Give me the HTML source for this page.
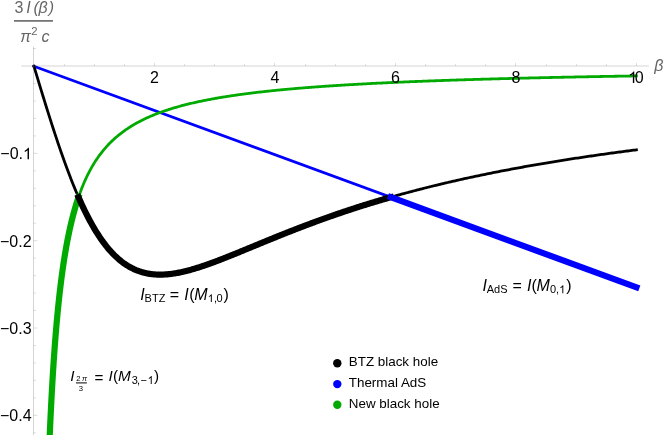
<!DOCTYPE html>
<html><head><meta charset="utf-8"><title>plot</title>
<style>
html,body{margin:0;padding:0;background:#fff;}
body{width:664px;height:435px;overflow:hidden;}
svg{display:block;will-change:transform;font-family:"Liberation Sans",sans-serif;}
.it{font-style:italic;}
</style></head><body>
<svg width="664" height="435" viewBox="0 0 664 435">
<rect width="664" height="435" fill="#fff"/>
<g fill="none" stroke-linejoin="round" stroke-linecap="square">
<path d="M33.90 66.20 L636.40 287.33" stroke="#0000ff" stroke-width="2.8"/>
<path d="M33.90 66.20 L35.41 71.19 L36.92 76.17 L38.43 81.14 L39.94 86.11 L41.45 91.05 L42.96 95.97 L44.47 100.87 L45.98 105.74 L47.49 110.58 L49.00 115.38 L50.51 120.13 L52.02 124.85 L53.53 129.51 L55.04 134.13 L56.55 138.68 L58.06 143.19 L59.57 147.63 L61.08 152.00 L62.59 156.31 L64.10 160.55 L65.61 164.73 L67.12 168.82 L68.63 172.84 L70.14 176.79 L71.65 180.66 L73.16 184.44 L74.67 188.15 L76.18 191.77 L77.69 195.30 L79.20 198.76 L80.71 202.12 L82.22 205.40 L83.73 208.60 L85.24 211.70 L86.75 214.73 L88.26 217.66 L89.77 220.51 L91.28 223.27 L92.79 225.94 L94.30 228.53 L95.81 231.03 L97.32 233.45 L98.83 235.78 L100.34 238.03 L101.85 240.20 L103.36 242.29 L104.87 244.30 L106.38 246.23 L107.89 248.08 L109.40 249.85 L110.91 251.55 L112.42 253.18 L113.93 254.73 L115.44 256.21 L116.95 257.62 L118.46 258.96 L119.97 260.24 L121.48 261.45 L122.99 262.59 L124.50 263.68 L126.01 264.70 L127.52 265.66 L129.03 266.56 L130.54 267.41 L132.05 268.20 L133.56 268.94 L135.07 269.63 L136.58 270.26 L138.09 270.85 L139.60 271.39 L141.11 271.88 L142.62 272.32 L144.13 272.72 L145.64 273.08 L147.15 273.40 L148.66 273.68 L150.17 273.92 L151.68 274.12 L153.19 274.28 L154.70 274.42 L156.21 274.51 L157.72 274.58 L159.23 274.61 L160.74 274.61 L162.25 274.58 L163.76 274.53 L165.27 274.44 L166.78 274.34 L168.29 274.20 L169.80 274.04 L171.31 273.86 L172.82 273.65 L174.33 273.43 L175.84 273.18 L177.35 272.91 L178.86 272.62 L180.37 272.32 L181.88 272.00 L183.39 271.66 L184.90 271.30 L186.41 270.93 L187.92 270.54 L189.43 270.14 L190.94 269.72 L192.45 269.30 L193.96 268.86 L195.47 268.40 L196.98 267.94 L198.49 267.47 L200.00 266.98 L201.51 266.49 L203.02 265.98 L204.53 265.47 L206.04 264.95 L207.55 264.42 L209.06 263.89 L210.57 263.34 L212.08 262.79 L213.59 262.24 L215.10 261.68 L216.61 261.11 L218.12 260.54 L219.63 259.96 L221.14 259.37 L222.65 258.79 L224.16 258.20 L225.67 257.60 L227.18 257.00 L228.69 256.40 L230.20 255.80 L231.71 255.19 L233.22 254.58 L234.73 253.97 L236.24 253.36 L237.75 252.74 L239.26 252.13 L240.77 251.51 L242.28 250.89 L243.79 250.27 L245.30 249.64 L246.81 249.02 L248.32 248.40 L249.83 247.78 L251.34 247.15 L252.85 246.53 L254.36 245.91 L255.87 245.28 L257.38 244.66 L258.89 244.04 L260.40 243.42 L261.91 242.79 L263.42 242.17 L264.93 241.55 L266.44 240.93 L267.95 240.32 L269.46 239.70 L270.97 239.08 L272.48 238.47 L273.99 237.86 L275.50 237.25 L277.01 236.64 L278.52 236.03 L280.03 235.42 L281.54 234.81 L283.05 234.21 L284.56 233.61 L286.07 233.01 L287.58 232.41 L289.09 231.82 L290.60 231.22 L292.11 230.63 L293.62 230.04 L295.13 229.45 L296.64 228.87 L298.15 228.28 L299.66 227.70 L301.17 227.12 L302.68 226.55 L304.19 225.97 L305.70 225.40 L307.21 224.83 L308.72 224.26 L310.23 223.70 L311.74 223.14 L313.25 222.58 L314.76 222.02 L316.27 221.46 L317.78 220.91 L319.29 220.36 L320.80 219.81 L322.31 219.27 L323.82 218.73 L325.33 218.19 L326.84 217.65 L328.35 217.11 L329.86 216.58 L331.37 216.05 L332.88 215.52 L334.39 215.00 L335.91 214.48 L337.42 213.96 L338.93 213.44 L340.44 212.93 L341.95 212.41 L343.46 211.90 L344.97 211.40 L346.48 210.89 L347.99 210.39 L349.50 209.89 L351.01 209.39 L352.52 208.90 L354.03 208.41 L355.54 207.92 L357.05 207.43 L358.56 206.95 L360.07 206.47 L361.58 205.99 L363.09 205.51 L364.60 205.04 L366.11 204.57 L367.62 204.10 L369.13 203.63 L370.64 203.17 L372.15 202.70 L373.66 202.25 L375.17 201.79 L376.68 201.33 L378.19 200.88 L379.70 200.43 L381.21 199.99 L382.72 199.54 L384.23 199.10 L385.74 198.66 L387.25 198.22 L388.76 197.79 L390.27 197.35 L391.78 196.92 L393.29 196.49 L394.80 196.07 L396.31 195.64 L397.82 195.22 L399.33 194.80 L400.84 194.38 L402.35 193.97 L403.86 193.56 L405.37 193.15 L406.88 192.74 L408.39 192.33 L409.90 191.93 L411.41 191.53 L412.92 191.13 L414.43 190.73 L415.94 190.34 L417.45 189.94 L418.96 189.55 L420.47 189.16 L421.98 188.78 L423.49 188.39 L425.00 188.01 L426.51 187.63 L428.02 187.25 L429.53 186.87 L431.04 186.50 L432.55 186.13 L434.06 185.76 L435.57 185.39 L437.08 185.02 L438.59 184.66 L440.10 184.29 L441.61 183.93 L443.12 183.57 L444.63 183.22 L446.14 182.86 L447.65 182.51 L449.16 182.16 L450.67 181.81 L452.18 181.46 L453.69 181.11 L455.20 180.77 L456.71 180.43 L458.22 180.09 L459.73 179.75 L461.24 179.41 L462.75 179.08 L464.26 178.74 L465.77 178.41 L467.28 178.08 L468.79 177.75 L470.30 177.43 L471.81 177.10 L473.32 176.78 L474.83 176.46 L476.34 176.14 L477.85 175.82 L479.36 175.51 L480.87 175.19 L482.38 174.88 L483.89 174.57 L485.40 174.26 L486.91 173.95 L488.42 173.64 L489.93 173.34 L491.44 173.03 L492.95 172.73 L494.46 172.43 L495.97 172.13 L497.48 171.83 L498.99 171.54 L500.50 171.24 L502.01 170.95 L503.52 170.66 L505.03 170.37 L506.54 170.08 L508.05 169.79 L509.56 169.51 L511.07 169.23 L512.58 168.94 L514.09 168.66 L515.60 168.38 L517.11 168.10 L518.62 167.83 L520.13 167.55 L521.64 167.28 L523.15 167.00 L524.66 166.73 L526.17 166.46 L527.68 166.19 L529.19 165.92 L530.70 165.66 L532.21 165.39 L533.72 165.13 L535.23 164.87 L536.74 164.61 L538.25 164.35 L539.76 164.09 L541.27 163.83 L542.78 163.57 L544.29 163.32 L545.80 163.07 L547.31 162.81 L548.82 162.56 L550.33 162.31 L551.84 162.06 L553.35 161.82 L554.86 161.57 L556.37 161.32 L557.88 161.08 L559.39 160.84 L560.90 160.60 L562.41 160.35 L563.92 160.12 L565.43 159.88 L566.94 159.64 L568.45 159.40 L569.96 159.17 L571.47 158.93 L572.98 158.70 L574.49 158.47 L576.00 158.24 L577.51 158.01 L579.02 157.78 L580.53 157.55 L582.04 157.33 L583.55 157.10 L585.06 156.88 L586.57 156.66 L588.08 156.43 L589.59 156.21 L591.10 155.99 L592.61 155.77 L594.12 155.56 L595.63 155.34 L597.14 155.12 L598.65 154.91 L600.16 154.69 L601.67 154.48 L603.18 154.27 L604.69 154.06 L606.20 153.85 L607.71 153.64 L609.22 153.43 L610.73 153.22 L612.24 153.01 L613.75 152.81 L615.26 152.60 L616.77 152.40 L618.28 152.20 L619.79 152.00 L621.30 151.79 L622.81 151.59 L624.32 151.39 L625.83 151.20 L627.34 151.00 L628.85 150.80 L630.36 150.61 L631.87 150.41 L633.38 150.22 L634.89 150.02 L636.40 149.83" stroke="#000" stroke-width="2.8"/>
<path d="M48.36 470.37 L49.34 444.67 L50.32 422.05 L51.31 401.98 L52.29 384.05 L53.27 367.94 L54.25 353.38 L55.23 340.17 L56.21 328.11 L57.20 317.08 L58.18 306.93 L59.16 297.58 L60.14 288.92 L61.12 280.89 L62.10 273.41 L63.09 266.44 L64.07 259.93 L65.05 253.82 L66.03 248.09 L67.01 242.70 L67.99 237.62 L68.98 232.82 L69.96 228.28 L70.94 223.99 L71.92 219.91 L72.90 216.04 L73.88 212.36 L74.87 208.86 L75.85 205.52 L76.83 202.34 L77.81 199.29 L78.79 196.38 L79.77 193.60 L80.76 190.93 L81.74 188.37 L82.72 185.91 L83.70 183.55 L84.68 181.28 L85.66 179.10 L86.65 177.00 L87.63 174.97 L88.61 173.02 L89.59 171.14 L90.57 169.32 L91.55 167.57 L92.54 165.87 L93.52 164.23 L94.50 162.64 L95.48 161.10 L96.46 159.61 L97.45 158.17 L98.43 156.77 L99.41 155.41 L100.39 154.10 L101.37 152.82 L102.35 151.58 L103.34 150.37 L104.32 149.19 L105.30 148.05 L106.28 146.94 L107.26 145.86 L108.24 144.81 L109.23 143.79 L110.21 142.79 L111.19 141.82 L112.17 140.87 L113.15 139.94 L114.13 139.04 L115.12 138.16 L116.10 137.30 L117.08 136.46 L118.06 135.64 L119.04 134.84 L120.02 134.06 L121.01 133.29 L121.99 132.55 L122.97 131.81 L123.95 131.10 L124.93 130.40 L125.91 129.71 L126.90 129.04 L127.88 128.39 L128.86 127.74 L129.84 127.11 L130.82 126.50 L131.80 125.89 L132.79 125.30 L133.77 124.72 L134.75 124.15 L135.73 123.59 L136.71 123.04 L137.69 122.51 L138.68 121.98 L139.66 121.46 L140.64 120.95 L141.62 120.45 L142.60 119.96 L143.59 119.48 L144.57 119.01 L145.55 118.55 L146.53 118.09 L147.51 117.64 L148.49 117.20 L149.48 116.77 L150.46 116.34 L151.44 115.92 L152.42 115.51 L153.40 115.10 L154.38 114.71 L155.37 114.31 L156.35 113.93 L157.33 113.55 L158.31 113.18 L159.29 112.81 L160.27 112.45 L161.26 112.09 L162.24 111.74 L163.22 111.39 L164.20 111.05 L165.18 110.72 L166.16 110.39 L167.15 110.06 L168.13 109.74 L169.11 109.42 L170.09 109.11 L171.07 108.81 L172.05 108.50 L173.04 108.20 L174.02 107.91 L175.00 107.62 L175.98 107.33 L176.96 107.05 L177.94 106.77 L178.93 106.50 L179.91 106.23 L180.89 105.96 L181.87 105.70 L182.85 105.44 L183.83 105.18 L184.82 104.93 L185.80 104.67 L186.78 104.43 L187.76 104.18 L188.74 103.94 L189.73 103.71 L190.71 103.47 L191.69 103.24 L192.67 103.01 L193.65 102.78 L194.63 102.56 L195.62 102.34 L196.60 102.12 L197.58 101.91 L198.56 101.69 L199.54 101.48 L200.52 101.27 L201.51 101.07 L202.49 100.87 L203.47 100.67 L204.45 100.47 L205.43 100.27 L206.41 100.08 L207.40 99.89 L208.38 99.70 L209.36 99.51 L210.34 99.32 L211.32 99.14 L212.30 98.96 L213.29 98.78 L214.27 98.60 L215.25 98.43 L216.23 98.25 L217.21 98.08 L218.19 97.91 L219.18 97.74 L220.16 97.58 L221.14 97.41 L222.12 97.25 L223.10 97.09 L224.08 96.93 L225.07 96.77 L226.05 96.62 L227.03 96.46 L228.01 96.31 L228.99 96.16 L229.98 96.01 L230.96 95.86 L231.94 95.71 L232.92 95.57 L233.90 95.42 L234.88 95.28 L235.87 95.14 L236.85 95.00 L237.83 94.86 L238.81 94.72 L239.79 94.59 L240.77 94.45 L241.76 94.32 L242.74 94.18 L243.72 94.05 L244.70 93.92 L245.68 93.80 L246.66 93.67 L247.65 93.54 L248.63 93.42 L249.61 93.29 L250.59 93.17 L251.57 93.05 L252.55 92.93 L253.54 92.81 L254.52 92.69 L255.50 92.57 L256.48 92.46 L257.46 92.34 L258.44 92.23 L259.43 92.11 L260.41 92.00 L261.39 91.89 L262.37 91.78 L263.35 91.67 L264.33 91.56 L265.32 91.45 L266.30 91.35 L267.28 91.24 L268.26 91.14 L269.24 91.03 L270.22 90.93 L271.21 90.83 L272.19 90.73 L273.17 90.63 L274.15 90.53 L275.13 90.43 L276.12 90.33 L277.10 90.23 L278.08 90.13 L279.06 90.04 L280.04 89.94 L281.02 89.85 L282.01 89.76 L282.99 89.66 L283.97 89.57 L284.95 89.48 L285.93 89.39 L286.91 89.30 L287.90 89.21 L288.88 89.12 L289.86 89.03 L290.84 88.95 L291.82 88.86 L292.80 88.77 L293.79 88.69 L294.77 88.60 L295.75 88.52 L296.73 88.44 L297.71 88.35 L298.69 88.27 L299.68 88.19 L300.66 88.11 L301.64 88.03 L302.62 87.95 L303.60 87.87 L304.58 87.79 L305.57 87.71 L306.55 87.64 L307.53 87.56 L308.51 87.48 L309.49 87.41 L310.47 87.33 L311.46 87.26 L312.44 87.18 L313.42 87.11 L314.40 87.04 L315.38 86.96 L316.36 86.89 L317.35 86.82 L318.33 86.75 L319.31 86.68 L320.29 86.61 L321.27 86.54 L322.26 86.47 L323.24 86.40 L324.22 86.33 L325.20 86.26 L326.18 86.20 L327.16 86.13 L328.15 86.06 L329.13 86.00 L330.11 85.93 L331.09 85.87 L332.07 85.80 L333.05 85.74 L334.04 85.67 L335.02 85.61 L336.00 85.55 L336.98 85.48 L337.96 85.42 L338.94 85.36 L339.93 85.30 L340.91 85.24 L341.89 85.18 L342.87 85.12 L343.85 85.06 L344.83 85.00 L345.82 84.94 L346.80 84.88 L347.78 84.82 L348.76 84.76 L349.74 84.70 L350.72 84.65 L351.71 84.59 L352.69 84.53 L353.67 84.48 L354.65 84.42 L355.63 84.36 L356.61 84.31 L357.60 84.25 L358.58 84.20 L359.56 84.15 L360.54 84.09 L361.52 84.04 L362.50 83.99 L363.49 83.93 L364.47 83.88 L365.45 83.83 L366.43 83.78 L367.41 83.72 L368.40 83.67 L369.38 83.62 L370.36 83.57 L371.34 83.52 L372.32 83.47 L373.30 83.42 L374.29 83.37 L375.27 83.32 L376.25 83.27 L377.23 83.22 L378.21 83.17 L379.19 83.13 L380.18 83.08 L381.16 83.03 L382.14 82.98 L383.12 82.94 L384.10 82.89 L385.08 82.84 L386.07 82.80 L387.05 82.75 L388.03 82.70 L389.01 82.66 L389.99 82.61 L390.97 82.57 L391.96 82.52 L392.94 82.48 L393.92 82.43 L394.90 82.39 L395.88 82.35 L396.86 82.30 L397.85 82.26 L398.83 82.21 L399.81 82.17 L400.79 82.13 L401.77 82.09 L402.75 82.04 L403.74 82.00 L404.72 81.96 L405.70 81.92 L406.68 81.88 L407.66 81.84 L408.64 81.80 L409.63 81.75 L410.61 81.71 L411.59 81.67 L412.57 81.63 L413.55 81.59 L414.54 81.55 L415.52 81.51 L416.50 81.48 L417.48 81.44 L418.46 81.40 L419.44 81.36 L420.43 81.32 L421.41 81.28 L422.39 81.24 L423.37 81.21 L424.35 81.17 L425.33 81.13 L426.32 81.09 L427.30 81.06 L428.28 81.02 L429.26 80.98 L430.24 80.95 L431.22 80.91 L432.21 80.87 L433.19 80.84 L434.17 80.80 L435.15 80.77 L436.13 80.73 L437.11 80.69 L438.10 80.66 L439.08 80.62 L440.06 80.59 L441.04 80.55 L442.02 80.52 L443.00 80.49 L443.99 80.45 L444.97 80.42 L445.95 80.38 L446.93 80.35 L447.91 80.32 L448.89 80.28 L449.88 80.25 L450.86 80.22 L451.84 80.18 L452.82 80.15 L453.80 80.12 L454.78 80.09 L455.77 80.05 L456.75 80.02 L457.73 79.99 L458.71 79.96 L459.69 79.93 L460.68 79.89 L461.66 79.86 L462.64 79.83 L463.62 79.80 L464.60 79.77 L465.58 79.74 L466.57 79.71 L467.55 79.68 L468.53 79.65 L469.51 79.62 L470.49 79.59 L471.47 79.56 L472.46 79.53 L473.44 79.50 L474.42 79.47 L475.40 79.44 L476.38 79.41 L477.36 79.38 L478.35 79.35 L479.33 79.32 L480.31 79.29 L481.29 79.26 L482.27 79.23 L483.25 79.21 L484.24 79.18 L485.22 79.15 L486.20 79.12 L487.18 79.09 L488.16 79.07 L489.14 79.04 L490.13 79.01 L491.11 78.98 L492.09 78.96 L493.07 78.93 L494.05 78.90 L495.03 78.87 L496.02 78.85 L497.00 78.82 L497.98 78.79 L498.96 78.77 L499.94 78.74 L500.93 78.71 L501.91 78.69 L502.89 78.66 L503.87 78.64 L504.85 78.61 L505.83 78.58 L506.82 78.56 L507.80 78.53 L508.78 78.51 L509.76 78.48 L510.74 78.46 L511.72 78.43 L512.71 78.41 L513.69 78.38 L514.67 78.36 L515.65 78.33 L516.63 78.31 L517.61 78.28 L518.60 78.26 L519.58 78.23 L520.56 78.21 L521.54 78.18 L522.52 78.16 L523.50 78.14 L524.49 78.11 L525.47 78.09 L526.45 78.07 L527.43 78.04 L528.41 78.02 L529.39 77.99 L530.38 77.97 L531.36 77.95 L532.34 77.93 L533.32 77.90 L534.30 77.88 L535.28 77.86 L536.27 77.83 L537.25 77.81 L538.23 77.79 L539.21 77.77 L540.19 77.74 L541.17 77.72 L542.16 77.70 L543.14 77.68 L544.12 77.65 L545.10 77.63 L546.08 77.61 L547.07 77.59 L548.05 77.57 L549.03 77.55 L550.01 77.52 L550.99 77.50 L551.97 77.48 L552.96 77.46 L553.94 77.44 L554.92 77.42 L555.90 77.40 L556.88 77.37 L557.86 77.35 L558.85 77.33 L559.83 77.31 L560.81 77.29 L561.79 77.27 L562.77 77.25 L563.75 77.23 L564.74 77.21 L565.72 77.19 L566.70 77.17 L567.68 77.15 L568.66 77.13 L569.64 77.11 L570.63 77.09 L571.61 77.07 L572.59 77.05 L573.57 77.03 L574.55 77.01 L575.53 76.99 L576.52 76.97 L577.50 76.95 L578.48 76.93 L579.46 76.91 L580.44 76.89 L581.42 76.87 L582.41 76.85 L583.39 76.84 L584.37 76.82 L585.35 76.80 L586.33 76.78 L587.31 76.76 L588.30 76.74 L589.28 76.72 L590.26 76.70 L591.24 76.69 L592.22 76.67 L593.21 76.65 L594.19 76.63 L595.17 76.61 L596.15 76.59 L597.13 76.58 L598.11 76.56 L599.10 76.54 L600.08 76.52 L601.06 76.50 L602.04 76.49 L603.02 76.47 L604.00 76.45 L604.99 76.43 L605.97 76.42 L606.95 76.40 L607.93 76.38 L608.91 76.36 L609.89 76.35 L610.88 76.33 L611.86 76.31 L612.84 76.29 L613.82 76.28 L614.80 76.26 L615.78 76.24 L616.77 76.23 L617.75 76.21 L618.73 76.19 L619.71 76.18 L620.69 76.16 L621.67 76.14 L622.66 76.13 L623.64 76.11 L624.62 76.09 L625.60 76.08 L626.58 76.06 L627.56 76.04 L628.55 76.03 L629.53 76.01 L630.51 76.00 L631.49 75.98 L632.47 75.96 L633.45 75.95 L634.44 75.93 L635.42 75.92 L636.40 75.90" stroke="#00aa00" stroke-width="2.8"/>
<path d="M48.36 470.37 L48.51 466.18 L48.66 462.07 L48.81 458.05 L48.97 454.11 L49.12 450.24 L49.27 446.46 L49.42 442.75 L49.57 439.11 L49.72 435.53 L49.88 432.03 L50.03 428.59 L50.18 425.22 L50.33 421.91 L50.48 418.66 L50.63 415.47 L50.78 412.33 L50.94 409.25 L51.09 406.23 L51.24 403.26 L51.39 400.34 L51.54 397.47 L51.69 394.65 L51.85 391.87 L52.00 389.15 L52.15 386.46 L52.30 383.83 L52.45 381.23 L52.60 378.68 L52.75 376.17 L52.91 373.70 L53.06 371.27 L53.21 368.87 L53.36 366.51 L53.51 364.19 L53.66 361.91 L53.81 359.66 L53.97 357.44 L54.12 355.26 L54.27 353.11 L54.42 350.99 L54.57 348.90 L54.72 346.85 L54.88 344.82 L55.03 342.82 L55.18 340.85 L55.33 338.91 L55.48 337.00 L55.63 335.11 L55.78 333.25 L55.94 331.41 L56.09 329.60 L56.24 327.81 L56.39 326.05 L56.54 324.31 L56.69 322.59 L56.85 320.90 L57.00 319.23 L57.15 317.58 L57.30 315.95 L57.45 314.35 L57.60 312.76 L57.75 311.19 L57.91 309.65 L58.06 308.12 L58.21 306.61 L58.36 305.12 L58.51 303.65 L58.66 302.20 L58.82 300.76 L58.97 299.35 L59.12 297.95 L59.27 296.56 L59.42 295.19 L59.57 293.84 L59.72 292.51 L59.88 291.19 L60.03 289.88 L60.18 288.59 L60.33 287.32 L60.48 286.06 L60.63 284.81 L60.79 283.58 L60.94 282.36 L61.09 281.15 L61.24 279.96 L61.39 278.79 L61.54 277.62 L61.69 276.47 L61.85 275.33 L62.00 274.20 L62.15 273.08 L62.30 271.98 L62.45 270.89 L62.60 269.81 L62.76 268.74 L62.91 267.68 L63.06 266.63 L63.21 265.60 L63.36 264.57 L63.51 263.56 L63.66 262.55 L63.82 261.56 L63.97 260.57 L64.12 259.60 L64.27 258.63 L64.42 257.68 L64.57 256.73 L64.72 255.79 L64.88 254.87 L65.03 253.95 L65.18 253.04 L65.33 252.14 L65.48 251.25 L65.63 250.36 L65.79 249.49 L65.94 248.62 L66.09 247.76 L66.24 246.91 L66.39 246.07 L66.54 245.23 L66.69 244.41 L66.85 243.59 L67.00 242.77 L67.15 241.97 L67.30 241.17 L67.45 240.38 L67.60 239.60 L67.76 238.82 L67.91 238.05 L68.06 237.29 L68.21 236.54 L68.36 235.79 L68.51 235.04 L68.66 234.31 L68.82 233.58 L68.97 232.86 L69.12 232.14 L69.27 231.43 L69.42 230.72 L69.57 230.02 L69.73 229.33 L69.88 228.64 L70.03 227.96 L70.18 227.29 L70.33 226.62 L70.48 225.95 L70.63 225.29 L70.79 224.64 L70.94 223.99 L71.09 223.35 L71.24 222.71 L71.39 222.08 L71.54 221.45 L71.70 220.83 L71.85 220.21 L72.00 219.60 L72.15 218.99 L72.30 218.39 L72.45 217.79 L72.60 217.20 L72.76 216.61 L72.91 216.02 L73.06 215.44 L73.21 214.87 L73.36 214.30 L73.51 213.73 L73.67 213.17 L73.82 212.61 L73.97 212.06 L74.12 211.51 L74.27 210.96 L74.42 210.42 L74.57 209.88 L74.73 209.35 L74.88 208.82 L75.03 208.30 L75.18 207.77 L75.33 207.26 L75.48 206.74 L75.63 206.23 L75.79 205.73 L75.94 205.22 L76.09 204.72 L76.24 204.23 L76.39 203.74 L76.54 203.25 L76.70 202.76 L76.85 202.28 L77.00 201.80 L77.15 201.33 L77.30 200.85 L77.45 200.39 L77.60 199.92 L77.76 199.46 L77.91 199.00 L78.06 198.54 L78.21 198.09 L78.36 197.64 L78.51 197.20" stroke="#00aa00" stroke-width="6.2"/>
<path d="M78.51 197.20 L79.56 199.56 L80.60 201.88 L81.65 204.17 L82.69 206.41 L83.74 208.61 L84.78 210.77 L85.83 212.88 L86.87 214.96 L87.91 216.99 L88.96 218.98 L90.00 220.94 L91.05 222.84 L92.09 224.71 L93.14 226.54 L94.18 228.32 L95.23 230.07 L96.27 231.77 L97.31 233.44 L98.36 235.06 L99.40 236.65 L100.45 238.19 L101.49 239.69 L102.54 241.16 L103.58 242.59 L104.63 243.98 L105.67 245.33 L106.71 246.64 L107.76 247.92 L108.80 249.16 L109.85 250.36 L110.89 251.53 L111.94 252.66 L112.98 253.76 L114.03 254.82 L115.07 255.85 L116.12 256.85 L117.16 257.81 L118.20 258.74 L119.25 259.64 L120.29 260.50 L121.34 261.34 L122.38 262.14 L123.43 262.91 L124.47 263.66 L125.52 264.37 L126.56 265.05 L127.60 265.71 L128.65 266.34 L129.69 266.94 L130.74 267.52 L131.78 268.07 L132.83 268.59 L133.87 269.09 L134.92 269.56 L135.96 270.01 L137.00 270.43 L138.05 270.83 L139.09 271.21 L140.14 271.57 L141.18 271.90 L142.23 272.21 L143.27 272.50 L144.32 272.77 L145.36 273.02 L146.40 273.25 L147.45 273.46 L148.49 273.65 L149.54 273.82 L150.58 273.98 L151.63 274.11 L152.67 274.23 L153.72 274.33 L154.76 274.42 L155.81 274.49 L156.85 274.54 L157.89 274.58 L158.94 274.60 L159.98 274.61 L161.03 274.61 L162.07 274.59 L163.12 274.55 L164.16 274.51 L165.21 274.45 L166.25 274.38 L167.29 274.29 L168.34 274.20 L169.38 274.09 L170.43 273.97 L171.47 273.84 L172.52 273.70 L173.56 273.55 L174.61 273.38 L175.65 273.21 L176.69 273.03 L177.74 272.84 L178.78 272.64 L179.83 272.43 L180.87 272.21 L181.92 271.99 L182.96 271.75 L184.01 271.51 L185.05 271.26 L186.09 271.01 L187.14 270.74 L188.18 270.47 L189.23 270.19 L190.27 269.91 L191.32 269.62 L192.36 269.32 L193.41 269.02 L194.45 268.71 L195.50 268.40 L196.54 268.08 L197.58 267.75 L198.63 267.42 L199.67 267.09 L200.72 266.75 L201.76 266.41 L202.81 266.06 L203.85 265.70 L204.90 265.35 L205.94 264.99 L206.98 264.62 L208.03 264.26 L209.07 263.88 L210.12 263.51 L211.16 263.13 L212.21 262.75 L213.25 262.36 L214.30 261.98 L215.34 261.59 L216.38 261.19 L217.43 260.80 L218.47 260.40 L219.52 260.00 L220.56 259.60 L221.61 259.19 L222.65 258.79 L223.70 258.38 L224.74 257.97 L225.78 257.56 L226.83 257.14 L227.87 256.73 L228.92 256.31 L229.96 255.90 L231.01 255.48 L232.05 255.06 L233.10 254.63 L234.14 254.21 L235.19 253.79 L236.23 253.36 L237.27 252.94 L238.32 252.51 L239.36 252.08 L240.41 251.66 L241.45 251.23 L242.50 250.80 L243.54 250.37 L244.59 249.94 L245.63 249.51 L246.67 249.08 L247.72 248.65 L248.76 248.22 L249.81 247.79 L250.85 247.36 L251.90 246.93 L252.94 246.49 L253.99 246.06 L255.03 245.63 L256.07 245.20 L257.12 244.77 L258.16 244.34 L259.21 243.91 L260.25 243.48 L261.30 243.05 L262.34 242.62 L263.39 242.19 L264.43 241.76 L265.47 241.33 L266.52 240.90 L267.56 240.48 L268.61 240.05 L269.65 239.62 L270.70 239.20 L271.74 238.77 L272.79 238.35 L273.83 237.92 L274.88 237.50 L275.92 237.08 L276.96 236.66 L278.01 236.23 L279.05 235.81 L280.10 235.39 L281.14 234.98 L282.19 234.56 L283.23 234.14 L284.28 233.72 L285.32 233.31 L286.36 232.90 L287.41 232.48 L288.45 232.07 L289.50 231.66 L290.54 231.25 L291.59 230.84 L292.63 230.43 L293.68 230.02 L294.72 229.61 L295.76 229.21 L296.81 228.80 L297.85 228.40 L298.90 228.00 L299.94 227.60 L300.99 227.20 L302.03 226.80 L303.08 226.40 L304.12 226.00 L305.16 225.61 L306.21 225.21 L307.25 224.82 L308.30 224.42 L309.34 224.03 L310.39 223.64 L311.43 223.25 L312.48 222.87 L313.52 222.48 L314.57 222.09 L315.61 221.71 L316.65 221.33 L317.70 220.94 L318.74 220.56 L319.79 220.18 L320.83 219.80 L321.88 219.43 L322.92 219.05 L323.97 218.68 L325.01 218.30 L326.05 217.93 L327.10 217.56 L328.14 217.19 L329.19 216.82 L330.23 216.45 L331.28 216.09 L332.32 215.72 L333.37 215.36 L334.41 214.99 L335.45 214.63 L336.50 214.27 L337.54 213.91 L338.59 213.56 L339.63 213.20 L340.68 212.84 L341.72 212.49 L342.77 212.14 L343.81 211.78 L344.85 211.43 L345.90 211.08 L346.94 210.74 L347.99 210.39 L349.03 210.04 L350.08 209.70 L351.12 209.36 L352.17 209.01 L353.21 208.67 L354.26 208.33 L355.30 208.00 L356.34 207.66 L357.39 207.32 L358.43 206.99 L359.48 206.65 L360.52 206.32 L361.57 205.99 L362.61 205.66 L363.66 205.33 L364.70 205.01 L365.74 204.68 L366.79 204.35 L367.83 204.03 L368.88 203.71 L369.92 203.39 L370.97 203.07 L372.01 202.75 L373.06 202.43 L374.10 202.11 L375.14 201.80 L376.19 201.48 L377.23 201.17 L378.28 200.85 L379.32 200.54 L380.37 200.23 L381.41 199.92 L382.46 199.62 L383.50 199.31 L384.54 199.01 L385.59 198.70 L386.63 198.40 L387.68 198.10 L388.72 197.79 L389.77 197.49 L390.81 197.20" stroke="#000" stroke-width="6.2"/>
<path d="M390.81 197.20 L636.40 287.33" stroke="#0000ff" stroke-width="6.2"/>
</g>
<g stroke="#666" stroke-width="0.28" fill="none">
<line x1="21.3" y1="66.0" x2="648.9" y2="66.0"/>
<line x1="33.5" y1="46.6" x2="33.5" y2="436"/>
</g>
<g stroke="#666" stroke-width="0.22" fill="none"><line x1="64.50" y1="66.00" x2="64.50" y2="64.20"/><line x1="94.50" y1="66.00" x2="94.50" y2="64.20"/><line x1="124.50" y1="66.00" x2="124.50" y2="64.20"/><line x1="154.50" y1="66.00" x2="154.50" y2="62.80"/><line x1="184.50" y1="66.00" x2="184.50" y2="64.20"/><line x1="214.50" y1="66.00" x2="214.50" y2="64.20"/><line x1="244.50" y1="66.00" x2="244.50" y2="64.20"/><line x1="274.50" y1="66.00" x2="274.50" y2="62.80"/><line x1="305.50" y1="66.00" x2="305.50" y2="64.20"/><line x1="335.50" y1="66.00" x2="335.50" y2="64.20"/><line x1="365.50" y1="66.00" x2="365.50" y2="64.20"/><line x1="395.50" y1="66.00" x2="395.50" y2="62.80"/><line x1="425.50" y1="66.00" x2="425.50" y2="64.20"/><line x1="455.50" y1="66.00" x2="455.50" y2="64.20"/><line x1="485.50" y1="66.00" x2="485.50" y2="64.20"/><line x1="515.50" y1="66.00" x2="515.50" y2="62.80"/><line x1="546.50" y1="66.00" x2="546.50" y2="64.20"/><line x1="576.50" y1="66.00" x2="576.50" y2="64.20"/><line x1="606.50" y1="66.00" x2="606.50" y2="64.20"/><line x1="636.50" y1="66.00" x2="636.50" y2="62.80"/><line x1="33.50" y1="83.56" x2="35.90" y2="83.56"/><line x1="33.50" y1="101.02" x2="35.90" y2="101.02"/><line x1="33.50" y1="118.48" x2="35.90" y2="118.48"/><line x1="33.50" y1="135.94" x2="35.90" y2="135.94"/><line x1="33.50" y1="153.40" x2="37.40" y2="153.40"/><line x1="33.50" y1="170.86" x2="35.90" y2="170.86"/><line x1="33.50" y1="188.32" x2="35.90" y2="188.32"/><line x1="33.50" y1="205.78" x2="35.90" y2="205.78"/><line x1="33.50" y1="223.24" x2="35.90" y2="223.24"/><line x1="33.50" y1="240.70" x2="37.40" y2="240.70"/><line x1="33.50" y1="258.16" x2="35.90" y2="258.16"/><line x1="33.50" y1="275.62" x2="35.90" y2="275.62"/><line x1="33.50" y1="293.08" x2="35.90" y2="293.08"/><line x1="33.50" y1="310.54" x2="35.90" y2="310.54"/><line x1="33.50" y1="328.00" x2="37.40" y2="328.00"/><line x1="33.50" y1="345.46" x2="35.90" y2="345.46"/><line x1="33.50" y1="362.92" x2="35.90" y2="362.92"/><line x1="33.50" y1="380.38" x2="35.90" y2="380.38"/><line x1="33.50" y1="397.84" x2="35.90" y2="397.84"/><line x1="33.50" y1="415.30" x2="37.40" y2="415.30"/><line x1="33.50" y1="432.76" x2="35.90" y2="432.76"/><line x1="33.00" y1="48.50" x2="35.90" y2="48.50"/></g>
<g font-size="16" fill="#000"><text x="154.40" y="83" text-anchor="middle">2</text><text x="274.90" y="83" text-anchor="middle">4</text><text x="395.40" y="83" text-anchor="middle">6</text><text x="515.90" y="83" text-anchor="middle">8</text><path transform="translate(628.30 83.00) scale(16.000 -16.000)" d="M0.373 0 L0.285 0 L0.285 0.560 Q0.253 0.530 0.202 0.500 Q0.150 0.469 0.109 0.454 L0.109 0.539 Q0.183 0.574 0.238 0.623 Q0.294 0.673 0.316 0.719 L0.373 0.719 Z"/><text x="634.8" y="83">0</text><text x="31.6" y="246.60" text-anchor="end">−0.2</text><text x="31.6" y="333.90" text-anchor="end">−0.3</text><text x="31.6" y="421.20" text-anchor="end">−0.4</text><text x="23.0" y="159.30" text-anchor="end">−0.</text><path transform="translate(23.00 159.30) scale(16.000 -16.000)" d="M0.373 0 L0.285 0 L0.285 0.560 Q0.253 0.530 0.202 0.500 Q0.150 0.469 0.109 0.454 L0.109 0.539 Q0.183 0.574 0.238 0.623 Q0.294 0.673 0.316 0.719 L0.373 0.719 Z"/></g>
<!-- axis labels -->
<g fill="#666" font-size="16">
<text x="14.6" y="13.2">3</text><text x="26.2" y="13.2" class="it">I</text><text x="33.6" y="13.2" class="it">(</text><text x="38.6" y="13.2" class="it">β</text><text x="48.8" y="13.2" class="it">)</text>
<rect x="14" y="20.1" width="39" height="1.6"/>
<text x="20.3" y="41.9" class="it">π</text><text x="31.2" y="34.7" font-size="11.3">2</text><text x="41.5" y="41.9" class="it">c</text>
<text x="654.3" y="71.2" class="it">β</text>
</g>
<!-- curve labels -->
<g fill="#000" font-size="16">
<text x="140.2" y="299.5" class="it">I</text><text x="144.6" y="302.1" font-size="11">BTZ</text><text x="169.8" y="299.5">=</text><text x="184.3" y="299.5" class="it">I</text><text x="189.2" y="299.5">(</text><text x="194.2" y="299.5" class="it">M</text><path transform="translate(207.70 302.10) scale(11.000 -11.000)" d="M0.373 0 L0.285 0 L0.285 0.560 Q0.253 0.530 0.202 0.500 Q0.150 0.469 0.109 0.454 L0.109 0.539 Q0.183 0.574 0.238 0.623 Q0.294 0.673 0.316 0.719 L0.373 0.719 Z"/><text x="213.9" y="302.1" font-size="11">,</text><text x="216.5" y="302.1" font-size="11">0</text><text x="223.6" y="299.5">)</text>
<text x="482.6" y="290.5" class="it">I</text><text x="486.7" y="293.2" font-size="11">AdS</text><text x="512.6" y="290.5">=</text><text x="526.9" y="290.5" class="it">I</text><text x="531.5" y="290.5">(</text><text x="536.4" y="290.5" class="it">M</text><text x="550.1" y="293.2" font-size="11">0</text><text x="556" y="293.2" font-size="11">,</text><path transform="translate(559.20 293.20) scale(11.000 -11.000)" d="M0.373 0 L0.285 0 L0.285 0.560 Q0.253 0.530 0.202 0.500 Q0.150 0.469 0.109 0.454 L0.109 0.539 Q0.183 0.574 0.238 0.623 Q0.294 0.673 0.316 0.719 L0.373 0.719 Z"/><text x="566.2" y="290.5">)</text>
<g font-size="15.3"><text x="70.3" y="381" class="it">I</text>
<text x="76.2" y="380.9" font-size="7.6">2</text><text x="82" y="380.9" font-size="7.6" class="it">π</text>
<rect x="76" y="382.4" width="10.9" height="1"/>
<text x="78.8" y="390.8" font-size="7.6">3</text>
<text x="94.5" y="383">=</text><text x="108.4" y="381" class="it">I</text><text x="112.9" y="381">(</text><text x="118.1" y="381" class="it">M</text><text x="131.7" y="383.9" font-size="11">3</text><text x="137.1" y="383.9" font-size="11">,</text><text x="140.5" y="383.9" font-size="11">−</text><path transform="translate(147.60 383.90) scale(11.000 -11.000)" d="M0.373 0 L0.285 0 L0.285 0.560 Q0.253 0.530 0.202 0.500 Q0.150 0.469 0.109 0.454 L0.109 0.539 Q0.183 0.574 0.238 0.623 Q0.294 0.673 0.316 0.719 L0.373 0.719 Z"/><text x="154" y="381">)</text></g>
</g>
<!-- legend -->
<g font-size="13.4" fill="#000">
<circle cx="337.3" cy="363.3" r="4.2" fill="#000"/>
<circle cx="337.3" cy="384.1" r="4.2" fill="#0000ff"/>
<circle cx="337.3" cy="404.8" r="4.2" fill="#00aa00"/>
<text x="348.8" y="366.1">BTZ black hole</text>
<text x="348.8" y="386.9">Thermal AdS</text>
<text x="348.8" y="407.6">New black hole</text>
</g>
</svg>
</body></html>
